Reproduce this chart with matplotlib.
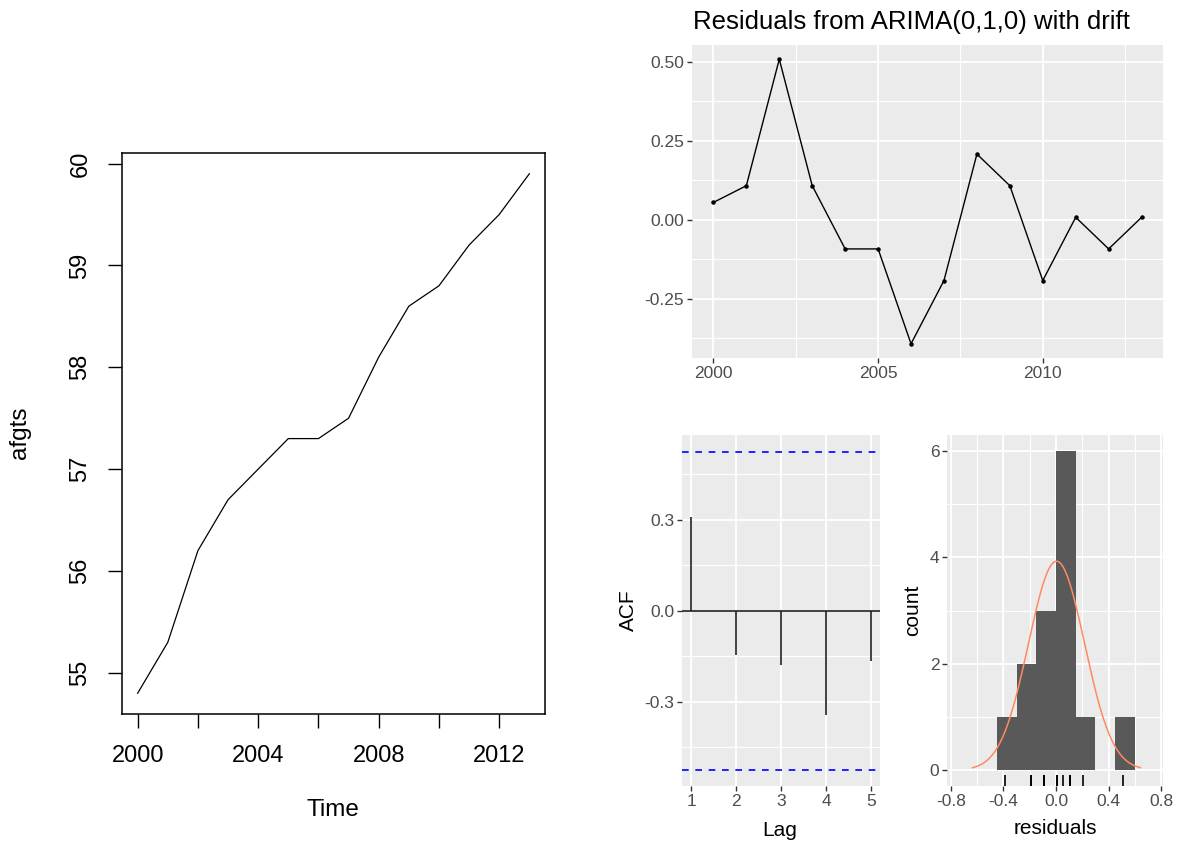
import matplotlib.pyplot as plt
import numpy as np

plt.rcParams["font.family"] = ["Liberation Sans", "DejaVu Sans"]

W, H = 1179, 843

# series
years = np.arange(2000, 2014)
afgts = [54.8, 55.3, 56.2, 56.7, 57.0, 57.3, 57.3, 57.5, 58.1, 58.6, 58.8, 59.2, 59.5, 59.9]
residuals = [0.055, 0.108, 0.508, 0.108, -0.092, -0.092, -0.392, -0.192,
             0.208, 0.108, -0.192, 0.008, -0.092, 0.008]
lags = [1, 2, 3, 4, 5]
acf_values = [0.31, -0.145, -0.18, -0.345, -0.165]
acf_bound = 0.524
hist_bins = [-0.45, -0.3, -0.15, 0.0, 0.15, 0.3, 0.45, 0.6]

GG_BG = "#EBEBEB"
GG_TEXT = "#4D4D4D"


def px_axes(fig, left, top, right, bottom):
    # axes placed in pixel coordinates (origin top-left)
    return fig.add_axes([left / W, 1 - bottom / H, (right - left) / W, (bottom - top) / H])


def fig_text(fig, x, y, s, **kw):
    return fig.text(x / W, 1 - y / H, s, **kw)


def gg_style(ax, xmajor, xminor, ymajor, yminor, xlabels=None, ylabels=None):
    ax.set_facecolor(GG_BG)
    for s in ax.spines.values():
        s.set_visible(False)
    ax.set_xticks(xmajor)
    ax.set_xticks(xminor, minor=True)
    ax.set_yticks(ymajor)
    ax.set_yticks(yminor, minor=True)
    if xlabels is not None:
        ax.set_xticklabels(xlabels)
    if ylabels is not None:
        ax.set_yticklabels(ylabels)
    ax.grid(which="major", color="white", linewidth=1.3)
    ax.grid(which="minor", color="white", linewidth=0.8)
    ax.set_axisbelow(True)
    ax.tick_params(which="major", length=3.5, width=1, color="#333333",
                   labelcolor=GG_TEXT, labelsize=12.5, pad=2)
    ax.tick_params(which="minor", length=0)


fig = plt.figure(figsize=(W / 100, H / 100), dpi=100)

# ---- left: base R style time series plot
ax = px_axes(fig, 122, 153, 545, 714)
ax.plot(years, afgts, color="black", linewidth=0.9)
ax.set_xlim(1999.48, 2013.52)
ax.set_ylim(54.596, 60.104)
ax.set_xticks(np.arange(2000, 2013, 2))
ax.set_xticklabels(["2000", "", "2004", "", "2008", "", "2012"])
ax.set_yticks([55, 56, 57, 58, 59, 60])
for t in ax.get_yticklabels():
    t.set_rotation(90)
    t.set_va("center")
ax.tick_params(length=10, width=1, labelsize=17, pad=12.5)
ax.tick_params(axis="y", pad=12)
for s in ax.spines.values():
    s.set_linewidth(1.1)
fig_text(fig, 333, 810, "Time", ha="center", va="center", fontsize=17.5)
fig_text(fig, 20, 433, "afgts", ha="center", va="center", fontsize=17.5, rotation=90)

# ---- top right: residuals over time
ax = px_axes(fig, 692, 45, 1163, 358)
ax.plot(years, residuals, color="black", linewidth=1)
ax.scatter(years, residuals, color="black", s=5, zorder=3)
ax.set_xlim(1999.35, 2013.65)
ax.set_ylim(-0.437, 0.553)
gg_style(ax, [2000, 2005, 2010], [2002.5, 2007.5, 2012.5],
         [-0.25, 0, 0.25, 0.5], [-0.375, -0.125, 0.125, 0.375],
         ylabels=["-0.25", "0.00", "0.25", "0.50"])
fig_text(fig, 693, 22, "Residuals from ARIMA(0,1,0) with drift",
         ha="left", va="center", fontsize=18.5)

# ---- bottom left: ACF
ax = px_axes(fig, 682, 435, 880, 786)
ax.axhline(acf_bound, color="blue", linewidth=1.2, linestyle=(0, (4, 4)))
ax.axhline(-acf_bound, color="blue", linewidth=1.2, linestyle=(0, (4, 4)))
ax.axhline(0, color="#222222", linewidth=1.2)
ax.vlines(lags, 0, acf_values, color="#222222", linewidth=1.2)
ax.set_xlim(0.8, 5.2)
ax.set_ylim(-0.578, 0.58)
gg_style(ax, lags, [], [-0.3, 0, 0.3], [-0.45, -0.15, 0.15, 0.45],
         ylabels=["-0.3", "0.0", "0.3"])
fig_text(fig, 628, 610, "ACF", ha="center", va="center", fontsize=15, rotation=90)
fig_text(fig, 780, 830, "Lag", ha="center", va="center", fontsize=15)

# ---- bottom right: histogram with normal curve
ax = px_axes(fig, 947, 435, 1163, 786)
ax.hist(residuals, bins=hist_bins, color="#595959", zorder=2)
mu = np.mean(residuals)
sd = np.std(residuals, ddof=1)
xs = np.linspace(mu - 3 * sd, mu + 3 * sd, 200)
scale = len(residuals) * (hist_bins[1] - hist_bins[0])
ys = scale * np.exp(-0.5 * ((xs - mu) / sd) ** 2) / (sd * np.sqrt(2 * np.pi))
ax.plot(xs, ys, color="#ff8a62", linewidth=1.1, zorder=3)
ax.vlines(residuals, 0, 0.03, transform=ax.get_xaxis_transform(),
          color="black", linewidth=1.2, zorder=3)
ax.set_xlim(-0.83, 0.815)
ax.set_ylim(-0.3, 6.3)
gg_style(ax, [-0.8, -0.4, 0, 0.4, 0.8], [-0.6, -0.2, 0.2, 0.6],
         [0, 2, 4, 6], [1, 3, 5],
         xlabels=["-0.8", "-0.4", "0.0", "0.4", "0.8"])
fig_text(fig, 913, 610, "count", ha="center", va="center", fontsize=15, rotation=90)
fig_text(fig, 1055, 829, "residuals", ha="center", va="center", fontsize=15)

fig.savefig("out.png", dpi=100)
